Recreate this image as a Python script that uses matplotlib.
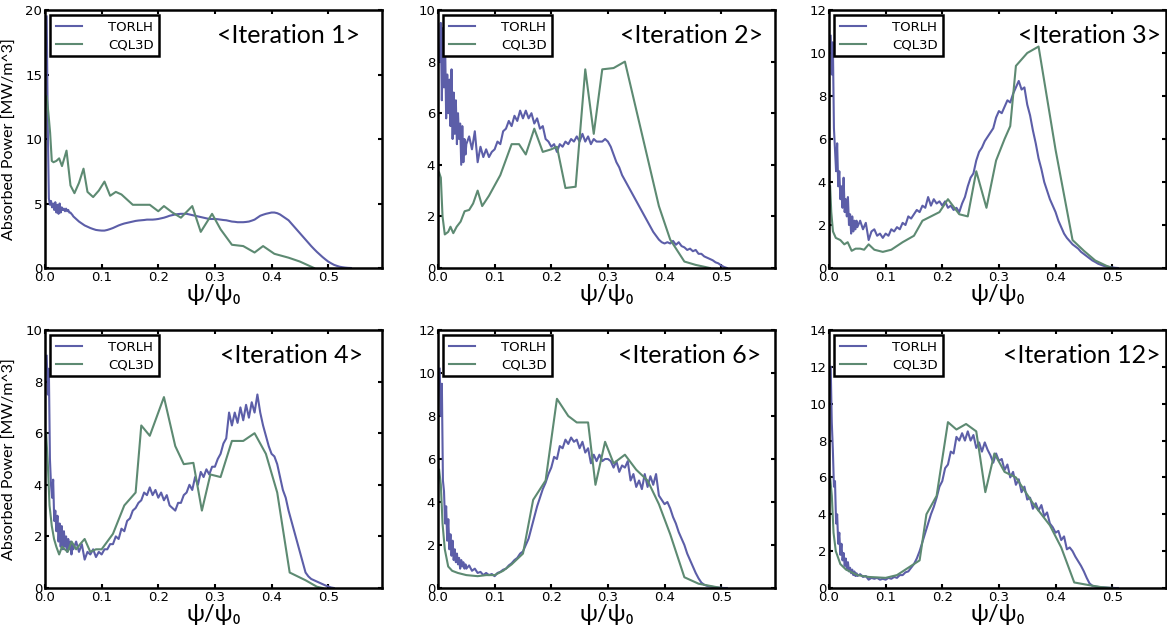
import numpy as np
import matplotlib
matplotlib.use("Agg")
import matplotlib.pyplot as plt

# ---------------- data -----------------------
iterations = [1, 2, 3, 4, 6, 12]
y_tops = [20, 10, 12, 10, 12, 14]
y_steps = [5, 2, 2, 2, 2, 2]
x_ticks = [0.0, 0.1, 0.2, 0.3, 0.4, 0.5]
series_names = ["TORLH", "CQL3D"]

# TORLH absorbed power: "edge" is sampled every 0.0019 in psi from 0.003 to 0.049,
# "body" every 0.005 from psi = 0.05 onwards
torlh_edge_1 = [19.5, 11.0, 5.4, 4.9, 5.2, 4.7, 5.0, 4.5, 5.1, 4.3,
                4.9, 4.2, 5.0, 4.3, 4.7, 4.5, 4.6, 4.4, 4.6, 4.4,
                4.5, 4.3, 4.3, 4.2, 4.1]
torlh_body_1 = [4.0, 3.8, 3.6, 3.45, 3.3, 3.2, 3.1, 3.02, 2.95, 2.92,
                2.9, 2.9, 2.95, 3.02, 3.1, 3.2, 3.3, 3.38, 3.45, 3.5,
                3.55, 3.6, 3.65, 3.68, 3.7, 3.72, 3.75, 3.75, 3.75, 3.77,
                3.8, 3.85, 3.9, 3.97, 4.05, 4.1, 4.15, 4.18, 4.2, 4.2,
                4.2, 4.15, 4.1, 4.05, 4.0, 3.95, 3.9, 3.85, 3.8, 3.8,
                3.8, 3.78, 3.75, 3.72, 3.7, 3.65, 3.6, 3.58, 3.55, 3.55,
                3.55, 3.57, 3.6, 3.67, 3.75, 3.9, 4.05, 4.13, 4.2, 4.25,
                4.3, 4.3, 4.25, 4.15, 4.0, 3.85, 3.7, 3.45, 3.2, 2.95,
                2.7, 2.45, 2.2, 1.95, 1.7, 1.47, 1.25, 1.05, 0.85, 0.67,
                0.5, 0.37, 0.25, 0.17, 0.1, 0.06, 0.03, 0.01, 0.0]

torlh_edge_2 = [8.0, 9.5, 6.5, 9.3, 7.0, 8.8, 5.8, 7.5, 6.0, 7.3,
                5.5, 7.7, 5.0, 6.8, 5.2, 6.5, 4.8, 6.0, 5.0, 5.6,
                4.0, 5.5, 4.1, 5.0, 4.4]
torlh_body_2 = [4.8, 5.1, 4.6, 5.3, 4.1, 4.7, 4.3, 4.6, 4.3, 4.5,
                4.6, 4.9, 4.8, 5.3, 5.4, 5.7, 5.5, 5.9, 5.7, 6.1,
                5.8, 6.1, 5.8, 6.0, 5.6, 5.8, 5.4, 5.5, 5.0, 4.9,
                4.7, 4.8, 4.5, 4.8, 4.7, 4.9, 4.8, 5.0, 4.9, 5.1,
                4.9, 5.2, 4.9, 5.1, 4.8, 5.0, 4.9, 4.9, 4.9, 5.0,
                4.9, 4.7, 4.4, 4.1, 3.9, 3.6, 3.4, 3.2, 3.0, 2.8,
                2.6, 2.4, 2.2, 2.0, 1.8, 1.6, 1.4, 1.25, 1.1, 1.0,
                0.95, 1.0, 0.95, 1.05, 0.9, 1.0, 0.85, 0.8, 0.7, 0.75,
                0.65, 0.7, 0.55, 0.55, 0.45, 0.4, 0.35, 0.3, 0.22, 0.18,
                0.1, 0.04, 0.0]

torlh_edge_3 = [10.8, 9.0, 10.5, 6.5, 5.5, 4.5, 5.8, 3.8, 4.5, 3.2,
                3.8, 2.8, 4.2, 2.6, 3.2, 2.4, 3.3, 2.0, 2.5, 1.6,
                2.4, 1.7, 2.2, 1.8, 2.2]
torlh_body_3 = [1.9, 2.2, 1.8, 2.1, 1.3, 1.7, 1.8, 1.5, 1.6, 1.4,
                1.6, 1.5, 1.8, 1.7, 1.9, 1.8, 2.1, 2.0, 2.4, 2.3,
                2.5, 2.7, 2.6, 2.9, 2.8, 3.3, 2.9, 3.2, 3.0, 3.1,
                2.9, 3.1, 2.8, 2.9, 2.7, 2.8, 2.6, 3.0, 3.3, 3.8,
                4.2, 4.4, 5.0, 5.4, 5.6, 5.9, 6.1, 6.3, 6.5, 7.0,
                7.3, 7.2, 7.5, 7.8, 7.7, 8.1, 8.4, 8.7, 8.3, 8.4,
                7.6, 7.1, 6.4, 5.8, 5.1, 4.6, 4.0, 3.6, 3.2, 2.9,
                2.6, 2.2, 1.9, 1.6, 1.4, 1.25, 1.1, 1.0, 0.9, 0.75,
                0.65, 0.55, 0.45, 0.35, 0.28, 0.2, 0.15, 0.1, 0.07, 0.05,
                0.03, 0.01, 0.0]

torlh_edge_4 = [9.0, 7.5, 8.5, 5.0, 4.0, 3.5, 4.2, 2.6, 3.0, 2.2,
                2.8, 1.8, 2.5, 1.6, 2.4, 1.5, 2.2, 1.6, 2.0, 1.4,
                1.9, 1.5, 1.8, 1.3, 1.7]
torlh_body_4 = [1.5, 1.8, 1.4, 1.7, 1.1, 1.4, 1.3, 1.5, 1.2, 1.4,
                1.3, 1.5, 1.5, 1.7, 1.7, 2.0, 1.9, 2.3, 2.2, 2.6,
                2.7, 3.0, 3.1, 3.3, 3.4, 3.7, 3.6, 3.9, 3.6, 3.8,
                3.5, 3.7, 3.4, 3.6, 3.2, 3.1, 3.0, 3.3, 3.3, 3.6,
                3.7, 4.0, 3.8, 4.3, 4.0, 4.5, 4.3, 4.6, 4.4, 4.7,
                4.7, 5.0, 5.2, 5.6, 5.8, 6.8, 6.3, 6.8, 6.4, 7.0,
                6.5, 7.1, 6.6, 7.2, 6.8, 7.5, 6.8, 6.3, 5.9, 5.5,
                5.2, 5.1, 4.8, 4.3, 3.8, 3.5, 3.0, 2.6, 2.2, 1.8,
                1.4, 1.0, 0.6, 0.45, 0.35, 0.3, 0.25, 0.2, 0.15, 0.1,
                0.06, 0.02, 0.0]

torlh_edge_5 = [10.2, 8.0, 9.5, 5.0, 4.5, 3.0, 3.8, 2.2, 3.2, 1.8,
                2.5, 1.5, 2.2, 1.3, 1.8, 1.2, 1.6, 1.1, 1.4, 0.9,
                1.3, 1.0, 1.2, 0.9, 1.1]
torlh_body_5 = [0.9, 1.05, 0.8, 0.9, 0.7, 0.75, 0.6, 0.7, 0.6, 0.65,
                0.55, 0.7, 0.75, 0.85, 0.9, 1.05, 1.15, 1.3, 1.4, 1.6,
                1.7, 2.0, 2.3, 2.8, 3.3, 3.8, 4.2, 4.6, 4.9, 5.3,
                5.6, 6.1, 6.0, 6.6, 6.5, 6.9, 6.7, 7.0, 6.8, 6.9,
                6.5, 6.8, 6.3, 6.5, 5.8, 6.2, 5.9, 6.2, 5.9, 6.0,
                6.0, 5.9, 5.6, 5.9, 5.4, 5.7, 5.6, 5.9, 5.0, 5.3,
                4.7, 5.0, 4.6, 5.3, 4.7, 5.2, 4.8, 5.3, 4.3, 4.1,
                3.9, 4.0, 3.7, 3.3, 3.0, 2.6, 2.3, 2.0, 1.6, 1.3,
                1.0, 0.7, 0.45, 0.25, 0.15, 0.1, 0.07, 0.05, 0.03, 0.02,
                0.01, 0.0, 0.0]

torlh_edge_6 = [12.0, 9.0, 7.5, 5.5, 5.8, 3.5, 4.0, 2.4, 3.0, 1.8,
                2.4, 1.5, 1.9, 1.2, 1.6, 1.0, 1.4, 0.9, 1.1, 0.8,
                1.0, 0.7, 0.9, 0.65, 0.8]
torlh_body_6 = [0.65, 0.75, 0.6, 0.65, 0.45, 0.55, 0.5, 0.55, 0.45, 0.5,
                0.45, 0.55, 0.5, 0.6, 0.55, 0.7, 0.7, 0.85, 0.9, 1.1,
                1.3, 1.6, 2.0, 2.5, 3.0, 3.5, 4.0, 4.4, 4.9, 5.5,
                5.8, 6.5, 6.7, 7.4, 7.3, 8.2, 8.0, 8.4, 8.0, 8.5,
                8.0, 8.3, 7.6, 7.9, 7.4, 7.9, 7.5, 7.2, 6.8, 7.3,
                6.9, 7.0, 6.4, 6.7, 6.0, 6.3, 5.6, 5.9, 5.2, 5.5,
                4.8, 4.9, 4.3, 4.6, 4.2, 4.5, 3.9, 4.1, 3.5, 3.3,
                3.0, 3.1, 2.6, 2.8, 2.1, 2.2, 2.0, 1.7, 1.45, 1.2,
                0.9, 0.55, 0.25, 0.12, 0.08, 0.06, 0.04, 0.03, 0.02, 0.01,
                0.01, 0.0, 0.0]

# CQL3D absorbed power (psi/psi0, MW/m^3)
cql_psi_1 = [0.003, 0.006, 0.009, 0.012, 0.015, 0.02, 0.025, 0.03, 0.038, 0.045,
             0.052, 0.06, 0.068, 0.075, 0.085, 0.095, 0.105, 0.115, 0.125, 0.135,
             0.145, 0.155, 0.17, 0.185, 0.2, 0.21, 0.225, 0.24, 0.26, 0.275,
             0.295, 0.31, 0.33, 0.35, 0.37, 0.385, 0.405, 0.43, 0.45, 0.465, 0.475]
cql_pow_1 = [13.3, 12.0, 10.5, 8.3, 8.2, 8.3, 8.5, 7.9, 9.1, 6.4,
             5.8, 6.6, 7.7, 5.9, 5.5, 6.0, 6.7, 5.6, 5.9, 5.7,
             5.3, 4.9, 4.9, 4.9, 4.4, 4.8, 4.3, 3.9, 4.8, 2.8,
             4.2, 3.0, 1.8, 1.7, 1.2, 1.7, 1.1, 0.8, 0.5, 0.2, 0.0]

cql_psi_2 = [0.002, 0.005, 0.008, 0.012, 0.018, 0.022, 0.027, 0.033, 0.04, 0.047,
             0.055, 0.062, 0.07, 0.078, 0.09, 0.1, 0.11, 0.12, 0.13, 0.143,
             0.155, 0.17, 0.185, 0.2, 0.21, 0.225, 0.243, 0.26, 0.275, 0.29,
             0.31, 0.33, 0.36, 0.39, 0.41, 0.435, 0.455, 0.48]
cql_pow_2 = [3.7, 3.5, 2.0, 1.3, 1.4, 1.6, 1.35, 1.6, 1.8, 2.2,
             2.25, 2.5, 3.0, 2.4, 2.8, 3.2, 3.6, 4.2, 4.8, 4.8,
             4.4, 5.4, 4.5, 4.6, 4.7, 3.1, 3.15, 7.7, 5.2, 7.7,
             7.75, 8.0, 5.2, 2.4, 1.1, 0.25, 0.12, 0.0]

cql_psi_3 = [0.002, 0.004, 0.007, 0.012, 0.02, 0.027, 0.033, 0.04, 0.047, 0.055,
             0.062, 0.07, 0.08, 0.095, 0.11, 0.13, 0.15, 0.165, 0.18, 0.195,
             0.21, 0.23, 0.245, 0.26, 0.278, 0.295, 0.31, 0.32, 0.33, 0.35,
             0.37, 0.4, 0.43, 0.45, 0.47, 0.49, 0.5]
cql_pow_3 = [3.8, 2.6, 1.7, 1.4, 1.3, 1.1, 1.2, 0.8, 0.9, 0.9,
             0.85, 1.1, 0.85, 0.75, 0.85, 1.2, 1.5, 2.2, 2.4, 2.6,
             3.2, 2.5, 2.4, 4.5, 2.8, 5.0, 6.0, 6.6, 9.4, 10.0,
             10.3, 5.5, 1.3, 0.8, 0.35, 0.1, 0.0]

cql_psi_4 = [0.002, 0.005, 0.008, 0.012, 0.016, 0.02, 0.025, 0.03, 0.035, 0.04,
             0.047, 0.055, 0.062, 0.07, 0.08, 0.09, 0.1, 0.12, 0.14, 0.16,
             0.17, 0.185, 0.2, 0.21, 0.23, 0.245, 0.262, 0.277, 0.292, 0.31,
             0.33, 0.35, 0.37, 0.39, 0.41, 0.432, 0.46, 0.48, 0.49]
cql_pow_4 = [6.0, 4.8, 3.2, 2.4, 1.9, 1.6, 1.3, 1.6, 1.5, 1.4,
             1.8, 1.5, 1.7, 1.9, 1.4, 1.5, 1.5, 2.1, 3.2, 3.7,
             6.3, 5.9, 6.8, 7.4, 5.5, 4.8, 4.85, 3.0, 4.4, 4.3,
             5.7, 5.7, 6.0, 5.2, 3.7, 0.6, 0.3, 0.05, 0.0]

cql_psi_5 = [0.002, 0.005, 0.008, 0.012, 0.018, 0.025, 0.035, 0.05, 0.07, 0.085,
             0.1, 0.115, 0.13, 0.15, 0.168, 0.19, 0.21, 0.23, 0.245, 0.265,
             0.278, 0.295, 0.31, 0.33, 0.35, 0.37, 0.39, 0.41, 0.435, 0.46,
             0.48, 0.5]
cql_pow_5 = [5.5, 4.8, 3.0, 1.8, 1.0, 0.8, 0.7, 0.6, 0.55, 0.6,
             0.6, 0.8, 1.1, 1.6, 4.1, 5.0, 8.8, 8.0, 7.7, 7.7,
             4.8, 6.8, 5.8, 6.2, 5.5, 5.0, 3.9, 2.5, 0.5, 0.2,
             0.1, 0.0]

cql_psi_6 = [0.002, 0.005, 0.008, 0.012, 0.02, 0.03, 0.05, 0.07, 0.1, 0.12,
             0.14, 0.16, 0.172, 0.19, 0.21, 0.225, 0.242, 0.26, 0.276, 0.292,
             0.31, 0.33, 0.36, 0.39, 0.41, 0.433, 0.46, 0.48, 0.5]
cql_pow_6 = [6.0, 5.0, 3.0, 2.0, 1.3, 1.0, 0.7, 0.6, 0.55, 0.7,
             1.1, 1.5, 4.0, 5.0, 9.0, 8.6, 8.9, 8.5, 5.2, 7.3,
             6.3, 6.0, 4.6, 3.4, 2.2, 0.3, 0.15, 0.05, 0.0]

torlh_edges = [torlh_edge_1, torlh_edge_2, torlh_edge_3, torlh_edge_4, torlh_edge_5, torlh_edge_6]
torlh_bodies = [torlh_body_1, torlh_body_2, torlh_body_3, torlh_body_4, torlh_body_5, torlh_body_6]
cql_psis = [cql_psi_1, cql_psi_2, cql_psi_3, cql_psi_4, cql_psi_5, cql_psi_6]
cql_pows = [cql_pow_1, cql_pow_2, cql_pow_3, cql_pow_4, cql_pow_5, cql_pow_6]
# ------------------------------------------------

TORLH_COLOR = "#5c5ea8"
CQL_COLOR = "#5d8a72"


def torlh_psi(edge, body):
    # dense samples near the axis, coarser ones further out
    return np.concatenate([0.003 + np.arange(len(edge)) * 0.0019,
                           0.05 + np.arange(len(body)) * 0.005])


W, H = 1167, 633
fig = plt.figure(figsize=(W / 100, H / 100), dpi=100)

# panel boxes in pixels
lefts = [45, 438, 829]
tops = [10, 330]
title_x = [0.935, 0.965, 0.985, 0.945, 0.96, 0.985]

for k, it in enumerate(iterations):
    row, col = divmod(k, 3)
    l, t = lefts[col], tops[row]
    w, h = 337, 258
    ax = fig.add_axes([l / W, 1 - (t + h) / H, w / W, h / H])

    psi = torlh_psi(torlh_edges[k], torlh_bodies[k])
    ax.plot(psi, np.concatenate([torlh_edges[k], torlh_bodies[k]]),
            color=TORLH_COLOR, lw=1.5, label=series_names[0])
    ax.plot(cql_psis[k], cql_pows[k], color=CQL_COLOR, lw=1.5, label=series_names[1])

    ax.set_xlim(0, 0.595)
    ax.set_ylim(0, y_tops[k])
    ax.set_xticks(x_ticks)
    ax.set_xticklabels([f"{v:.1f}" for v in x_ticks])
    ax.set_yticks(np.arange(0, y_tops[k] + 0.1, y_steps[k]))
    ax.tick_params(direction="in", length=3, width=1.5, top=True, right=True,
                   labelsize=9.5, pad=2)
    for s in ax.spines.values():
        s.set_linewidth(1.8)

    ax.set_xlabel("ψ/ψ₀", fontsize=17, family="Lato", labelpad=0)
    if col == 0:
        ax.set_ylabel("Absorbed Power [MW/m^3]", fontsize=11.5, family="Lato")
        ax.yaxis.set_label_coords(-0.083, 0.5)

    ax.text(title_x[k], 0.9, f"<Iteration {it}>", transform=ax.transAxes,
            ha="right", va="center", fontsize=18, family="Lato")

    leg = ax.legend(loc="upper left", prop={"size": 9.5}, frameon=True, fancybox=False,
                    handlelength=2.0, handletextpad=2.0, borderaxespad=0.4,
                    borderpad=0.4, labelspacing=0.35)
    leg.get_frame().set_edgecolor("black")
    leg.get_frame().set_linewidth(1.8)
    leg.get_frame().set_alpha(1)

fig.savefig("out.png", dpi=100)
